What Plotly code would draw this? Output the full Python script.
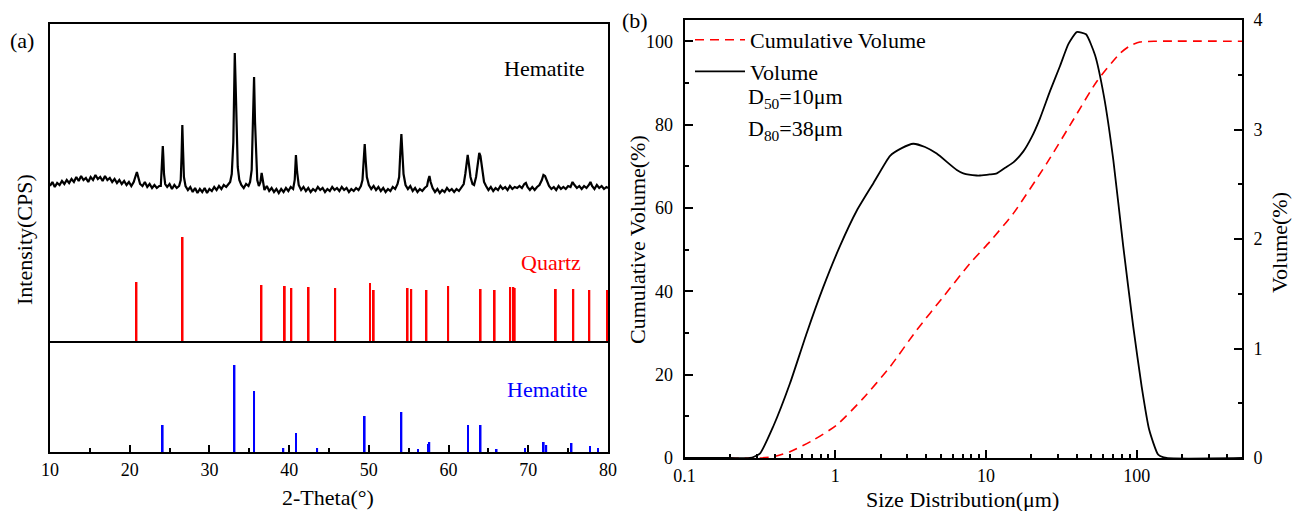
import plotly.graph_objects as go

W, H = 1292, 511
FONT = "Liberation Serif, Times New Roman, serif"

# ---------------- (a) XRD data ----------------
# measured hematite sample pattern: (2-theta, intensity in arbitrary plotted counts)
hematite_xrd_points = [
    (10.0, 266), (10.3, 270), (10.6, 265), (10.9, 269), (11.2, 267), (11.5, 271), (11.8, 268), (12.1, 272),
    (12.4, 269), (12.7, 273), (13.0, 270), (13.3, 275), (13.6, 271), (13.9, 276), (14.2, 272), (14.5, 274),
    (14.8, 270), (15.1, 275), (15.4, 272), (15.7, 277), (16.0, 273), (16.3, 275), (16.6, 271), (16.9, 276),
    (17.2, 272), (17.5, 274), (17.8, 270), (18.1, 273), (18.4, 269), (18.7, 272), (19.0, 268), (19.3, 271),
    (19.6, 267), (19.9, 270), (20.2, 266), (20.5, 270), (20.7, 275), (20.9, 280), (21.1, 274), (21.3, 268),
    (21.6, 266), (21.9, 270), (22.2, 265), (22.5, 268), (22.8, 264), (23.1, 267), (23.4, 264), (23.7, 266),
    (23.9, 266), (24.0, 278), (24.1, 300), (24.15, 306), (24.22, 295), (24.3, 278), (24.45, 268), (24.7, 265),
    (25.0, 268), (25.3, 263), (25.6, 267), (25.9, 264), (26.2, 266), (26.4, 272), (26.5, 295), (26.6, 327),
    (26.7, 300), (26.8, 275), (27.0, 266), (27.3, 262), (27.6, 265), (27.9, 260), (28.2, 264), (28.5, 259),
    (28.8, 263), (29.1, 260), (29.4, 264), (29.7, 259), (30.0, 263), (30.3, 261), (30.6, 265), (30.9, 262),
    (31.2, 266), (31.5, 263), (31.8, 267), (32.1, 265), (32.4, 268), (32.6, 270), (32.8, 278), (33.0, 310),
    (33.1, 360), (33.18, 399), (33.28, 370), (33.4, 320), (33.55, 285), (33.75, 272), (34.0, 267), (34.3, 264),
    (34.6, 268), (34.9, 266), (35.1, 270), (35.3, 282), (35.45, 330), (35.6, 375), (35.72, 330), (35.85, 290),
    (36.0, 272), (36.2, 266), (36.4, 270), (36.55, 279), (36.7, 270), (36.9, 262), (37.2, 266), (37.5, 261),
    (37.8, 264), (38.1, 260), (38.4, 263), (38.7, 259), (39.0, 263), (39.3, 260), (39.6, 264), (39.9, 261),
    (40.2, 265), (40.5, 263), (40.7, 272), (40.85, 297), (41.0, 280), (41.2, 267), (41.5, 262), (41.8, 265),
    (42.1, 261), (42.4, 264), (42.7, 260), (43.0, 263), (43.3, 261), (43.6, 265), (43.9, 262), (44.2, 264),
    (44.5, 260), (44.8, 263), (45.1, 261), (45.4, 265), (45.7, 262), (46.0, 264), (46.3, 261), (46.6, 265),
    (46.9, 262), (47.2, 264), (47.5, 260), (47.8, 263), (48.1, 261), (48.4, 264), (48.7, 262), (49.0, 266),
    (49.2, 272), (49.35, 290), (49.48, 308), (49.6, 292), (49.75, 275), (50.0, 267), (50.3, 263), (50.6, 266),
    (50.9, 262), (51.2, 265), (51.5, 261), (51.8, 264), (52.1, 260), (52.4, 263), (52.7, 261), (53.0, 265),
    (53.3, 263), (53.6, 268), (53.8, 275), (53.95, 300), (54.08, 318), (54.2, 300), (54.35, 278), (54.6, 267),
    (54.9, 263), (55.2, 266), (55.5, 261), (55.8, 264), (56.1, 260), (56.4, 263), (56.7, 261), (57.0, 264),
    (57.3, 266), (57.45, 272), (57.6, 276), (57.75, 270), (58.0, 264), (58.3, 260), (58.6, 263), (58.9, 259),
    (59.2, 262), (59.5, 260), (59.8, 264), (60.1, 261), (60.4, 263), (60.7, 260), (61.0, 263), (61.3, 261),
    (61.6, 265), (61.9, 268), (62.1, 278), (62.25, 290), (62.4, 297), (62.55, 288), (62.75, 275), (63.0, 268),
    (63.2, 267), (63.45, 275), (63.65, 290), (63.85, 299), (64.0, 296), (64.2, 283), (64.45, 270), (64.7, 266),
    (65.0, 262), (65.3, 265), (65.6, 261), (65.9, 264), (66.2, 262), (66.5, 266), (66.8, 263), (67.1, 265),
    (67.4, 262), (67.7, 266), (68.0, 263), (68.3, 265), (68.6, 264), (68.9, 266), (69.2, 264), (69.5, 268),
    (69.7, 269), (69.9, 265), (70.2, 262), (70.5, 265), (70.8, 262), (71.1, 265), (71.4, 267), (71.7, 272),
    (71.9, 277), (72.1, 276), (72.35, 270), (72.6, 266), (72.9, 263), (73.2, 265), (73.5, 262), (73.8, 266),
    (74.1, 263), (74.4, 265), (74.7, 263), (75.0, 266), (75.3, 265), (75.55, 270), (75.8, 267), (76.1, 264),
    (76.4, 266), (76.7, 263), (77.0, 266), (77.3, 264), (77.6, 267), (77.8, 270), (78.0, 266), (78.3, 263),
    (78.6, 267), (78.9, 264), (79.2, 266), (79.5, 263), (79.8, 265), (80.0, 264),
]

# quartz standard card lines
quartz_2theta = [20.86, 26.64, 36.54, 39.46, 40.29, 42.45, 45.79, 50.14, 50.62, 54.87, 55.33,
                 57.24, 59.96, 64.03, 65.79, 67.74, 68.14, 68.31, 73.46, 75.66, 77.67, 79.88]
quartz_intensity = [60, 105, 57, 56, 54, 55, 54, 59, 52, 54, 53,
                    52, 56, 53, 52, 55, 55, 54, 53, 53, 52, 52]

# hematite standard card lines
hematite_ref_2theta = [24.14, 33.15, 35.61, 39.28, 40.85, 43.52, 49.48, 54.09, 56.15, 57.43, 57.59,
                       62.45, 64.02, 66.03, 69.60, 71.94, 72.26, 75.43, 77.73, 78.76, 80.71]
hematite_ref_intensity = [27, 87, 61, 4, 19, 4, 36, 40, 3, 8, 10,
                          27, 27, 3, 4, 10, 7, 9, 6, 4, 6]

QUARTZ_BASE = 110  # vertical offset of the quartz stick pattern

# ---------------- (b) particle size data ----------------
volume_size_um = [0.1, 0.2, 0.272, 0.316, 0.388, 0.50, 0.646, 0.832, 1.07, 1.39, 1.79, 2.31, 2.76,
                  3.29, 3.94, 4.71, 6.40, 7.07, 8.67, 9.12, 10.6, 11.8, 13.4, 15.2, 17.7, 20.1, 22.8,
                  26.6, 31.0, 35.2, 40.0, 46.1, 52.9, 60.7, 70.0, 81.5, 94.9, 108, 121, 139, 158, 500]
volume_pct = [0, 0, 0, 0.04, 0.29, 0.68, 1.14, 1.56, 1.93, 2.26, 2.51, 2.76, 2.83,
              2.87, 2.84, 2.78, 2.63, 2.60, 2.58, 2.58, 2.59, 2.60, 2.65, 2.70, 2.80, 2.93, 3.10,
              3.35, 3.58, 3.78, 3.89, 3.87, 3.68, 3.30, 2.72, 1.93, 1.20, 0.65, 0.26, 0.03, 0, 0]

cum_size_um = [0.1, 0.316, 0.388, 0.50, 0.715, 1.02, 1.53, 2.31, 3.47, 5.21, 7.83, 10.6, 15.2,
               25.3, 37.9, 54.2, 77.5, 90.3, 105, 130, 500]
cum_volume_pct = [0, 0, 0.3, 1.5, 4.3, 7.9, 14.3, 21.9, 30.7, 38.7, 46.7, 51.9, 58.7,
                  70.7, 81.1, 90.3, 97.1, 98.9, 99.8, 100, 100]

# ---------------- figure ----------------
xrd_x = [p[0] for p in hematite_xrd_points]
xrd_y = [p[1] for p in hematite_xrd_points]

fig = go.Figure()

fig.add_trace(go.Scatter(x=xrd_x, y=xrd_y, mode="lines", line=dict(color="black", width=2.2),
                         showlegend=False, xaxis="x", yaxis="y"))
fig.add_trace(go.Bar(x=quartz_2theta, y=quartz_intensity, base=QUARTZ_BASE, width=0.22,
                     marker=dict(color="#ff0000", line=dict(width=0)), showlegend=False,
                     xaxis="x", yaxis="y", cliponaxis=False))
fig.add_trace(go.Bar(x=hematite_ref_2theta, y=hematite_ref_intensity, base=0, width=0.22,
                     marker=dict(color="#0000ff", line=dict(width=0)), showlegend=False,
                     xaxis="x", yaxis="y", cliponaxis=False))

fig.add_trace(go.Scatter(x=cum_size_um, y=cum_volume_pct, mode="lines", name="Cumulative Volume",
                         line=dict(color="#ff0000", width=1.6, dash="9px,6px", shape="spline", smoothing=0.6),
                         xaxis="x2", yaxis="y2"))
fig.add_trace(go.Scatter(x=volume_size_um, y=volume_pct, mode="lines", name="Volume",
                         line=dict(color="black", width=1.8, shape="spline", smoothing=0.5),
                         xaxis="x2", yaxis="y3"))

def px(x):
    return x / W

def py(y):
    return 1 - y / H

tick_font = dict(family=FONT, size=18, color="black")

fig.update_layout(
    width=W, height=H,
    margin=dict(l=0, r=0, t=0, b=0, pad=0, autoexpand=False),
    paper_bgcolor="white", plot_bgcolor="white",
    barmode="overlay",
    font=dict(family=FONT, size=22, color="black"),
    xaxis=dict(domain=[px(50), px(608)], range=[10, 80], anchor="y", automargin=False,
               tick0=10, dtick=10, ticks="inside", ticklen=7, tickwidth=1.5, tickcolor="black",
               minor=dict(dtick=5, ticks="inside", ticklen=4, tickwidth=1.5, tickcolor="black"),
               showline=True, linecolor="black", linewidth=2, mirror=True,
               showgrid=False, zeroline=False, tickfont=tick_font, ticklabelstandoff=0),
    yaxis=dict(domain=[py(452), py(24)], range=[0, 428], anchor="x", automargin=False,
               showticklabels=False, ticks="", showline=True, linecolor="black", linewidth=2,
               mirror=True, showgrid=False, zeroline=False),
    xaxis2=dict(domain=[px(684.6), px(1242)], type="log", range=[-1, 2.699], anchor="y2",
                automargin=False,
                dtick=1, ticks="inside", ticklen=8, tickwidth=1.5, tickcolor="black",
                minor=dict(dtick="D1", ticks="inside", ticklen=4, tickwidth=1.5, tickcolor="black"),
                showline=True, linecolor="black", linewidth=2, mirror=True,
                showgrid=False, zeroline=False, tickfont=tick_font, ticklabelstandoff=0),
    yaxis2=dict(domain=[py(458), py(20)], range=[0, 105.1], anchor="x2", automargin=False,
                dtick=20, ticks="inside", ticklen=8, tickwidth=1.5, tickcolor="black",
                minor=dict(dtick=10, ticks="inside", ticklen=4, tickwidth=1.5, tickcolor="black"),
                showline=True, linecolor="black", linewidth=2,
                showgrid=False, zeroline=False, tickfont=tick_font, ticklabelstandoff=6),
    yaxis3=dict(range=[0, 4], overlaying="y2", side="right", anchor="x2", automargin=False,
                dtick=1, ticks="inside", ticklen=8, tickwidth=1.5, tickcolor="black",
                minor=dict(dtick=0.5, ticks="inside", ticklen=4, tickwidth=1.5, tickcolor="black"),
                showline=True, linecolor="black", linewidth=2,
                showgrid=False, zeroline=False, tickfont=tick_font, ticklabelstandoff=6),
    legend=dict(x=px(690), y=py(19), xanchor="left", yanchor="top",
                bgcolor="rgba(0,0,0,0)", font=dict(family=FONT, size=22, color="black"),
                itemwidth=50, tracegroupgap=0),
)

fig.add_shape(type="line", xref="x domain", yref="y", x0=0, x1=1, y0=QUARTZ_BASE, y1=QUARTZ_BASE,
              line=dict(color="black", width=2))

def note(text, x, y, color="black", size=22, angle=0, xanchor="center"):
    fig.add_annotation(text=text, x=px(x), y=py(y), xref="paper", yref="paper",
                       showarrow=False, textangle=angle, xanchor=xanchor, yanchor="middle",
                       font=dict(family=FONT, size=size, color=color))

note("(a)", 22, 40)
note("(b)", 635, 20)
note("Hematite", 544, 68)
note("Quartz", 551, 262, color="#ff0000")
note("Hematite", 547, 389, color="#0000ff")
note("2-Theta(°)", 328, 497)
note("Intensity(CPS)", 24, 240, angle=-90)
note("Size Distribution(μm)", 962, 499)
note("Cumulative Volume(%)", 637, 240, angle=-90)
note("Volume(%)", 1279, 243, angle=-90)
note("D<sub>50</sub>=10μm", 746, 98, xanchor="left")
note("D<sub>80</sub>=38μm", 746, 130, xanchor="left")

fig.write_html("out.html")
